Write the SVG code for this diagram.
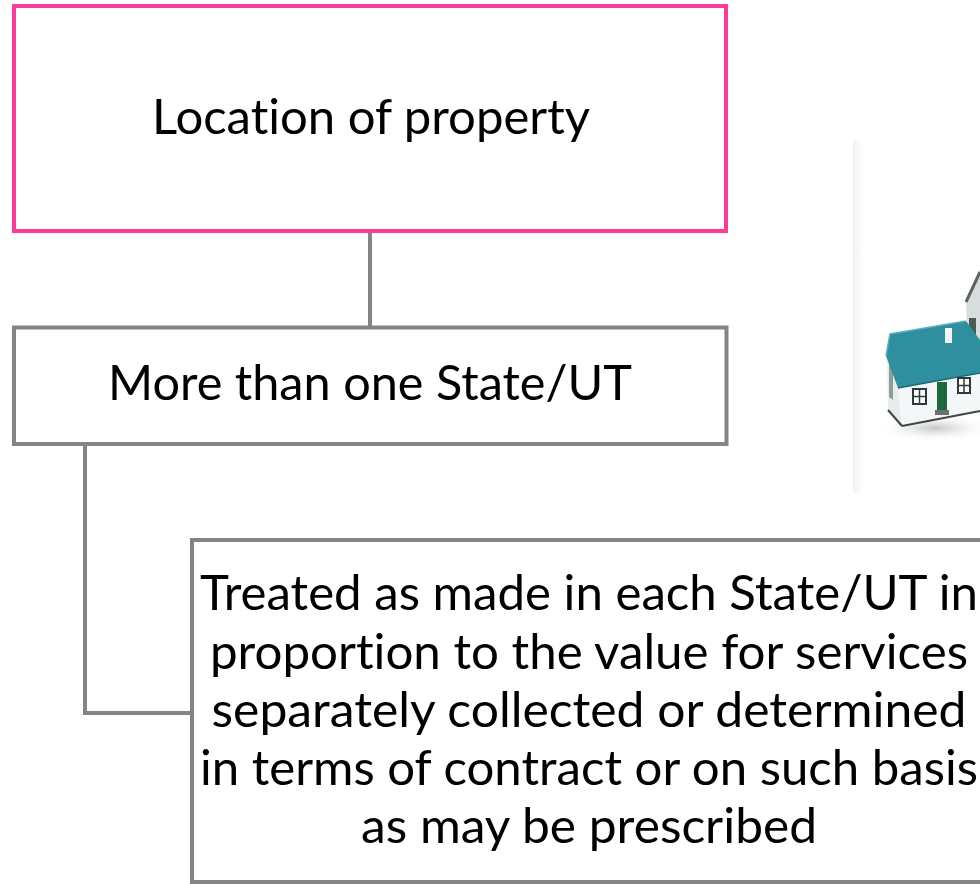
<svg xmlns="http://www.w3.org/2000/svg" width="980" height="884" viewBox="0 0 980 884">
  <style>
    .box { fill: #ffffff; stroke: #848484; stroke-width: 4; }
    .box-top { fill: #ffffff; stroke: #ff3a98; stroke-width: 4; }
    .label { font-family: "Lato", "Open Sans", "Liberation Sans", sans-serif; font-size: 48px; fill: #000000; text-anchor: middle; font-variant-ligatures: none; font-feature-settings: "liga" 0, "clig" 0; }
    .wire { fill: none; stroke: #848484; stroke-width: 4; }
  </style>
  <defs>
    <filter id="soft" x="-5%" y="-5%" width="110%" height="110%">
      <feGaussianBlur stdDeviation="0.7"/>
    </filter>
    <linearGradient id="edge" x1="0" y1="0" x2="1" y2="0">
      <stop offset="0" stop-color="#f1f1f1"/>
      <stop offset="1" stop-color="#ffffff"/>
    </linearGradient>
    <radialGradient id="shade" cx="0.5" cy="0.5" r="0.5">
      <stop offset="0" stop-color="#b8b8b8" stop-opacity="0.8"/>
      <stop offset="1" stop-color="#ffffff" stop-opacity="0"/>
    </radialGradient>
  </defs>

  <!-- house picture -->
  <g id="house-picture" filter="url(#soft)">
    <rect x="853" y="140" width="127" height="353" fill="#ffffff"/>
    <rect x="853" y="140" width="10" height="353" fill="url(#edge)"/>
    <ellipse cx="935" cy="428" rx="60" ry="14" fill="url(#shade)"/>
    <!-- taller house behind -->
    <polygon points="966,300 980,270 980,410 970,405" fill="#d9dcdc"/>
    <polyline points="966,302 980,272" fill="none" stroke="#5d6464" stroke-width="3"/>
    <rect x="969" y="318" width="7" height="18" fill="#4a5a58"/>
    <!-- side gable wall -->
    <polygon points="887,352 898,386 902,426 888,410" fill="#e8ecec"/>
    <polygon points="889,358 893,362 893,400 889,397" fill="#8f9a9a"/>
    <!-- front wall -->
    <polygon points="898,386 980,372 980,411 902,426" fill="#f4f7f7"/>
    <polyline points="902,426 980,411" fill="none" stroke="#3f4747" stroke-width="2"/>
    <polyline points="888,410 902,426" fill="none" stroke="#3f4747" stroke-width="2"/>
    <!-- roof -->
    <polygon points="890,334 966,321 980,340 980,373 898,388 886,356" fill="#2e8f9e"/>
    <polyline points="886,356 890,334 966,321" fill="none" stroke="#5bb0bc" stroke-width="1.5"/>
    <polyline points="898,388 980,373" fill="none" stroke="#1f6a76" stroke-width="1.5"/>
    <!-- chimney -->
    <rect x="945" y="328" width="7" height="15" fill="#f2f6f6"/>
    <!-- windows -->
    <rect x="913" y="389" width="13" height="15" fill="#ffffff" stroke="#2f3a3a" stroke-width="2"/>
    <path d="M919.5 389v15M913 396.5h13" stroke="#2f3a3a" stroke-width="1.5"/>
    <rect x="958" y="378" width="12" height="15" fill="#ffffff" stroke="#2f3a3a" stroke-width="2"/>
    <path d="M964 378v15M958 385.5h12" stroke="#2f3a3a" stroke-width="1.5"/>
    <!-- door and step -->
    <rect x="937" y="382" width="10" height="28" fill="#1f6b3a"/>
    <rect x="935" y="410" width="14" height="5" fill="#6a6f6f"/>
  </g>

  <!-- connectors -->
  <g id="connectors">
    <line class="wire" x1="370" y1="233" x2="370" y2="327"/>
    <polyline class="wire" points="85,446 85,713 192,713"/>
  </g>

  <g id="node-location">
    <rect class="box-top" x="14" y="6" width="712" height="225"/>
    <text class="label" x="371" y="134" textLength="438" lengthAdjust="spacingAndGlyphs">Location of property</text>
  </g>

  <g id="node-multi-state">
    <rect class="box" x="14" y="327.5" width="712.5" height="116.5"/>
    <text class="label" x="370" y="400" textLength="524" lengthAdjust="spacingAndGlyphs">More than one State/UT</text>
  </g>

  <g id="node-treatment">
    <rect class="box" x="192" y="540" width="800" height="342"/>
    <text class="label" x="589" y="610" textLength="778" lengthAdjust="spacingAndGlyphs">Treated as made in each State/UT in</text>
    <text class="label" x="589" y="668.5" textLength="758" lengthAdjust="spacingAndGlyphs">proportion to the value for services</text>
    <text class="label" x="589" y="727" textLength="755" lengthAdjust="spacingAndGlyphs">separately collected or determined</text>
    <text class="label" x="589" y="785" textLength="778" lengthAdjust="spacingAndGlyphs">in terms of contract or on such basis</text>
    <text class="label" x="589" y="843" textLength="456" lengthAdjust="spacingAndGlyphs">as may be prescribed</text>
  </g>
</svg>
